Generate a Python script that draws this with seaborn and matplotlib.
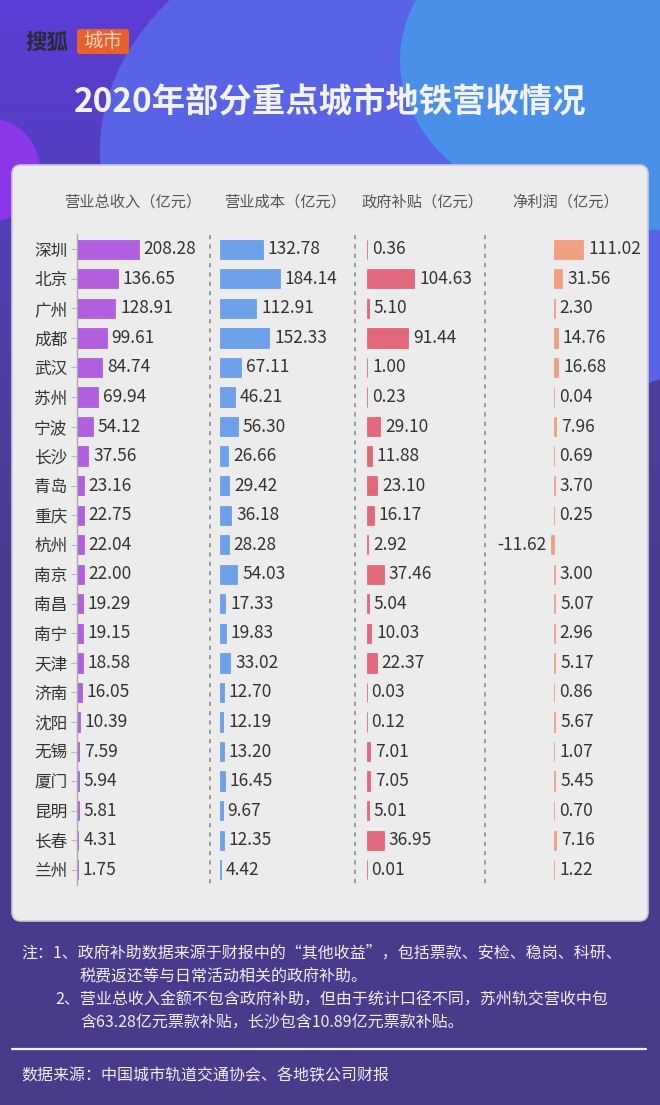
import numpy as np
import pandas as pd
import matplotlib
matplotlib.use("Agg")
import matplotlib.pyplot as plt
import seaborn as sns
from matplotlib.patches import FancyBboxPatch, Ellipse, Circle
from matplotlib.colors import LinearSegmentedColormap

# ---------------- data ----------------
cities = ["深圳", "北京", "广州", "成都", "武汉", "苏州", "宁波", "长沙", "青岛", "重庆", "杭州",
          "南京", "南昌", "南宁", "天津", "济南", "沈阳", "无锡", "厦门", "昆明", "长春", "兰州"]
revenue = [208.28, 136.65, 128.91, 99.61, 84.74, 69.94, 54.12, 37.56, 23.16, 22.75, 22.04,
           22.00, 19.29, 19.15, 18.58, 16.05, 10.39, 7.59, 5.94, 5.81, 4.31, 1.75]
cost = [132.78, 184.14, 112.91, 152.33, 67.11, 46.21, 56.30, 26.66, 29.42, 36.18, 28.28,
        54.03, 17.33, 19.83, 33.02, 12.70, 12.19, 13.20, 16.45, 9.67, 12.35, 4.42]
subsidy = [0.36, 104.63, 5.10, 91.44, 1.00, 0.23, 29.10, 11.88, 23.10, 16.17, 2.92,
           37.46, 5.04, 10.03, 22.37, 0.03, 0.12, 7.01, 7.05, 5.01, 36.95, 0.01]
profit = [111.02, 31.56, 2.30, 14.76, 16.68, 0.04, 7.96, 0.69, 3.70, 0.25, -11.62,
          3.00, 5.07, 2.96, 5.17, 0.86, 5.67, 1.07, 5.45, 0.70, 7.16, 1.22]
headers = ["营业总收入（亿元）", "营业成本（亿元）", "政府补贴（亿元）", "净利润（亿元）"]
title = "2020年部分重点城市地铁营收情况"
logo_main = "搜狐"
logo_tag = "城市"
notes = ["注：1、政府补助数据来源于财报中的“其他收益”，包括票款、安检、稳岗、科研、",
         "税费返还等与日常活动相关的政府补助。",
         "2、营业总收入金额不包含政府补助，但由于统计口径不同，苏州轨交营收中包",
         "含63.28亿元票款补贴，长沙包含10.89亿元票款补贴。"]
source = "数据来源：中国城市轨道交通协会、各地铁公司财报"

# ---------------- style ----------------
sns.set_theme(style="white")
plt.rcParams["font.family"] = ["Noto Sans CJK SC", "DejaVu Sans"]

W, H = 660, 1105
fig = plt.figure(figsize=(W / 100, H / 100), dpi=100)

# background axes in pixel coordinates
bg = fig.add_axes([0, 0, 1, 1])
bg.set_xlim(0, W)
bg.set_ylim(H, 0)
bg.axis("off")
grad = np.linspace(0, 1, 256).reshape(-1, 1)
cmap = LinearSegmentedColormap.from_list(
    "bg", [(0, "#5b3dd6"), (0.3, "#5040a8"), (0.5, "#4b3b90"), (1, "#4a3a8a")])
bg.imshow(grad, extent=[0, W, H, 0], cmap=cmap, aspect="auto", zorder=0)
bg.add_patch(Ellipse((480, 150), 760, 520, color="#5963e6", zorder=1, lw=0))
bg.add_patch(Ellipse((650, 60), 500, 340, color="#4a90e8", zorder=2, lw=0))
bg.add_patch(Circle((-12, 170), 52, color="#8a38ea", zorder=2, lw=0))

# panel
bg.add_patch(FancyBboxPatch((12, 165), 636, 756, boxstyle="round,pad=0,rounding_size=9",
                            facecolor="#ececec", edgecolor="#c9c9d3", lw=1.2, zorder=3))

# logo & title
bg.text(25, 42, logo_main, fontsize=15.5, fontweight="bold", color="#2b2838",
        va="center", ha="left", zorder=5)
bg.add_patch(FancyBboxPatch((77, 29), 52, 25, boxstyle="round,pad=0,rounding_size=3",
                            facecolor="#e8612d", edgecolor="none", zorder=5))
bg.text(103, 41.5, logo_tag, fontsize=14, color="#f8d2c2", va="center", ha="center", zorder=6)
bg.text(330, 103, title, fontsize=24, fontweight="heavy", color="#f2f2f7",
        va="center", ha="center", zorder=5)

# headers
for hx, txt in zip([133, 285, 423, 566], headers):
    bg.text(hx, 202, txt, fontsize=11, color="#555555", va="center", ha="center", zorder=5)

# dashed separators
for sx in [210, 355, 485]:
    bg.plot([sx, sx], [235, 884], color="#9a9a9a", lw=1.4, ls=(0, (2.2, 2.6)), zorder=5)

# notes
note_pos = [(21, 953), (80, 977), (55, 1000), (80, 1023)]
for (nx, ny), txt in zip(note_pos, notes):
    bg.text(nx, ny, txt, fontsize=11.5, color="#f0eef8", va="center", ha="left", zorder=5)
bg.plot([12, 646], [1049, 1049], color="#f2f0fa", lw=1.6, zorder=5)
bg.text(21, 1076, source, fontsize=11.5, color="#f0eef8", va="center", ha="left", zorder=5)

# ---------------- bar columns ----------------
row_top, row_bot = 234.5, 884.5


def px_axes(left, right):
    return fig.add_axes([left / W, 1 - row_bot / H, (right - left) / W, (row_bot - row_top) / H])


columns = [
    # values, color, left px, right px, xlim
    (revenue, "#b25fe0", 77, 205, (0, 128 / 0.297)),
    (cost, "#6ca0e8", 219.5, 350, (0, 130.5 / 0.327)),
    (subsidy, "#e2687b", 366.7, 480, (0, 113.3 / 0.456)),
    (profit, "#f0a080", 490, 645, (-64 / 0.264, 91 / 0.264)),
]

for i, (vals, col, lpx, rpx, xl) in enumerate(columns):
    ax = px_axes(lpx, rpx)
    ax.set_zorder(6)
    ax.patch.set_alpha(0)
    df = pd.DataFrame({"city": cities, "value": vals})
    sns.barplot(data=df, x="value", y="city", orient="h", color=col, saturation=1,
                width=0.65, ax=ax, edgecolor=col, linewidth=0.6)
    ax.set_xlim(*xl)
    ax.set_ylim(len(cities) - 0.5, -0.5)
    ax.bar_label(ax.containers[0], labels=[f"{v:.2f}" for v in vals], padding=3.5,
                 fontsize=12.5, color="#333333")
    ax.set_xlabel("")
    ax.set_ylabel("")
    ax.set_xticks([])
    for s in ["top", "right", "bottom"]:
        ax.spines[s].set_visible(False)
    if i == 0:
        ax.spines["left"].set_color("#aaaaaa")
        ax.spines["left"].set_linewidth(1.0)
        ax.tick_params(axis="y", left=True, length=4, width=0.8, color="#bbbbbb",
                       pad=3, labelsize=12, labelcolor="#333333")
    else:
        ax.spines["left"].set_visible(False)
        ax.set_yticks([])

fig.savefig("out.png", dpi=100)
